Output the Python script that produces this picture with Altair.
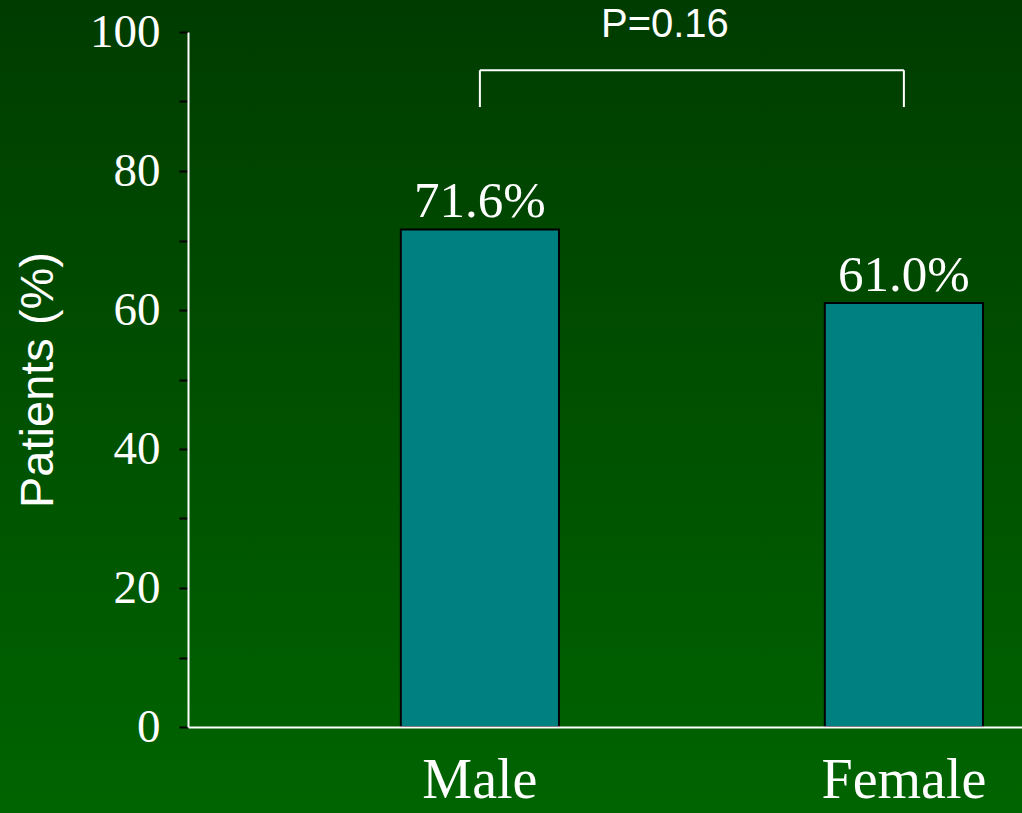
import altair as alt
import pandas as pd

# Share of patients by sex
groups = ["Male", "Female"]
percent = [71.6, 61.0]
value_labels = ["71.6%", "61.0%"]

# Significance bracket between the two groups
p_text = "P=0.16"
bracket_top = 94.5
bracket_leg_bottom = 89.2
p_text_level = 101.0

SERIF = "Liberation Serif"
SANS = "Liberation Sans"

bars_df = pd.DataFrame({"group": groups, "pct": percent, "label": value_labels})
legs_df = pd.DataFrame({"group": groups, "y0": [bracket_leg_bottom] * 2, "y1": [bracket_top] * 2})
span_df = pd.DataFrame({"g1": [groups[0]], "g2": [groups[1]], "y": [bracket_top]})
ptext_df = pd.DataFrame({"group": [groups[0]], "y": [p_text_level], "t": [p_text]})

W, H = 834, 695
PAD = {"left": 188, "top": 32, "right": 0, "bottom": 86}

x_scale = alt.Scale(domain=groups, paddingInner=0.627, paddingOuter=0.297, align=0.845)
y_scale = alt.Scale(domain=[0, 100])

# Green backdrop with a vertical gradient over the whole canvas
backdrop = alt.Chart(pd.DataFrame({"k": [0]})).mark_rect(
    color=alt.Gradient(
        gradient="linear",
        stops=[alt.GradientStop(color="#003c00", offset=0),
               alt.GradientStop(color="#006400", offset=1)],
        x1=0, x2=0, y1=0, y2=1,
    ),
    clip=False,
).encode(
    x=alt.value(-PAD["left"]), x2=alt.value(W + PAD["right"]),
    y=alt.value(-PAD["top"]), y2=alt.value(H + PAD["bottom"]),
)

bars = alt.Chart(bars_df).mark_bar(
    color="#008080", stroke="black", strokeWidth=2
).encode(
    x=alt.X("group:N", scale=x_scale, sort=groups, title=None,
            axis=alt.Axis(labelFont=SERIF, labelFontSize=56, labelColor="white",
                          labelAngle=0, labelPadding=26, ticks=False,
                          domainColor="white", domainWidth=2, zindex=1)),
    y=alt.Y("pct:Q", scale=y_scale, title="Patients (%)",
            axis=alt.Axis(values=list(range(0, 101, 10)),
                          labelExpr="datum.value % 20 == 0 ? datum.label : ''",
                          labelFont=SERIF, labelFontSize=47, labelColor="white",
                          labelPadding=19, tickColor="black", tickSize=9,
                          tickWidth=2, domainColor="white", domainWidth=2,
                          grid=False, titleFont=SANS, titleFontSize=47,
                          titleFontWeight="normal", titleColor="white",
                          titlePadding=27, zindex=1)),
)

labels = alt.Chart(bars_df).mark_text(
    font=SERIF, fontSize=51, color="white", baseline="alphabetic", dy=-12
).encode(
    x=alt.X("group:N", scale=x_scale, sort=groups),
    y=alt.Y("pct:Q", scale=y_scale),
    text="label:N",
)

legs = alt.Chart(legs_df).mark_rule(color="white", strokeWidth=2).encode(
    x=alt.X("group:N", scale=x_scale, sort=groups),
    y=alt.Y("y0:Q", scale=y_scale),
    y2="y1:Q",
)

span = alt.Chart(span_df).mark_rule(color="white", strokeWidth=2).encode(
    x=alt.X("g1:N", scale=x_scale, sort=groups),
    x2="g2:N",
    y=alt.Y("y:Q", scale=y_scale),
)

ptext = alt.Chart(ptext_df).mark_text(
    font=SANS, fontSize=40, color="white", baseline="middle", dx=185, clip=False
).encode(
    x=alt.X("group:N", scale=x_scale, sort=groups),
    y=alt.Y("y:Q", scale=y_scale),
    text="t:N",
)

chart = alt.layer(backdrop, bars, labels, legs, span, ptext).properties(
    width=W, height=H, autosize=alt.AutoSizeParams(type="none"), padding=PAD,
    background="#004c00",
).configure_view(stroke=None)

chart.save("out.html", embed_options={"renderer": "svg", "actions": False})
